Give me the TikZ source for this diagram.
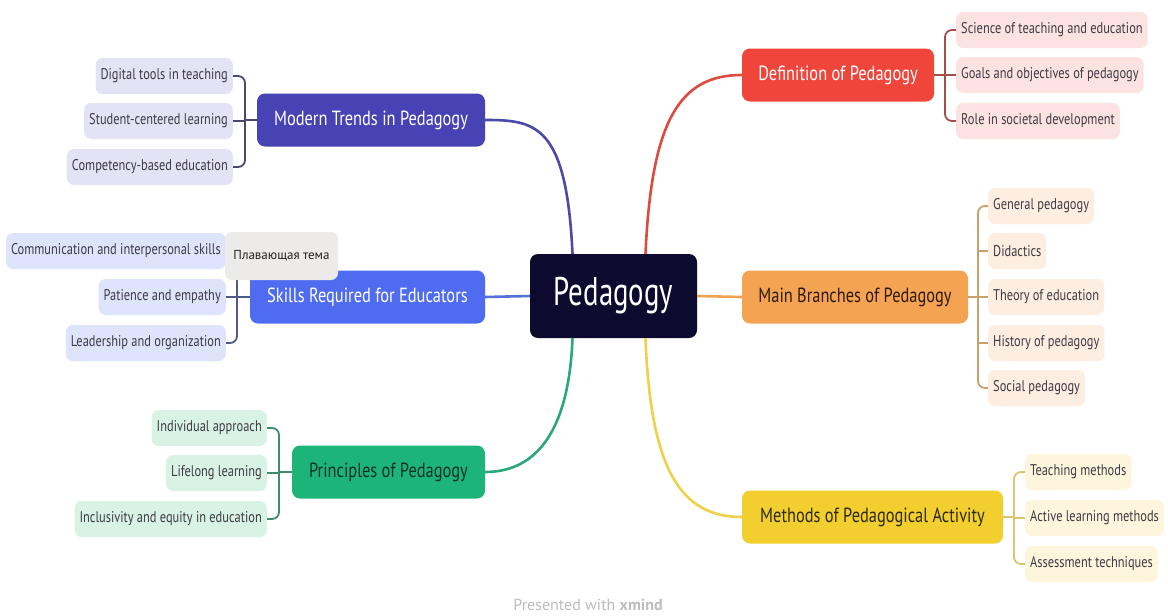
\documentclass[tikz,border=0pt]{standalone}
\usepackage{fontspec}
\setmainfont{PT Sans}[FakeStretch=0.8]
\newfontfamily\centrefont{PT Sans}[FakeStretch=0.72]
\newfontfamily\plainfont{PT Sans}
\usetikzlibrary{calc}
\definecolor{cnavy}{HTML}{0C0A2E}
\definecolor{cred}{HTML}{EF453B}
\definecolor{corange}{HTML}{F4A352}
\definecolor{cyellow}{HTML}{F2CE2E}
\definecolor{cindigo}{HTML}{4843B5}
\definecolor{cblue}{HTML}{4F6CF1}
\definecolor{cgreen}{HTML}{1DB47A}
\definecolor{lred}{HTML}{FCE3E1}
\definecolor{lorange}{HTML}{FDEEE1}
\definecolor{lyellow}{HTML}{FDF6DC}
\definecolor{lindigo}{HTML}{E4E3F5}
\definecolor{lblue}{HTML}{DEE4FB}
\definecolor{lgreen}{HTML}{D8F2E6}
\definecolor{bred}{HTML}{A3504B}
\definecolor{borange}{HTML}{C9A06E}
\definecolor{byellow}{HTML}{D9C570}
\definecolor{bindigo}{HTML}{4A4770}
\definecolor{bblue}{HTML}{505A86}
\definecolor{bgreen}{HTML}{3F8C6B}
\definecolor{subtext}{HTML}{3E3B44}
\definecolor{floatfill}{HTML}{EDEBE9}
\definecolor{floattext}{HTML}{222222}
\definecolor{torange}{HTML}{2E1A0E}
\definecolor{tyellow}{HTML}{2E2A10}
\definecolor{tgreen}{HTML}{0E3326}
\definecolor{kred}{HTML}{DD4A40}
\definecolor{korange}{HTML}{F0A253}
\definecolor{kyellow}{HTML}{EFD04A}
\definecolor{kindigo}{HTML}{4C49A9}
\definecolor{kblue}{HTML}{5570D8}
\definecolor{kgreen}{HTML}{2AA878}
\definecolor{footgray}{HTML}{BDBDBD}
\begin{document}
\begin{tikzpicture}[x=1pt,y=-1pt,
  centre/.style={fill=cnavy,text=white,rounded corners=8pt,minimum width=167pt,minimum height=84pt,font=\centrefont\fontsize{40}{46}\selectfont},
  topic/.style={rounded corners=8pt,minimum height=53pt,inner xsep=13pt,font=\fontsize{20.5}{24}\selectfont},
  subtopic/.style={rounded corners=7pt,minimum height=36pt,inner xsep=5pt,text=subtext,font=\fontsize{15.5}{18}\selectfont},
  trunk/.style={line width=2.6pt},
  bracket/.style={line width=1.8pt,rounded corners=7pt},
  stub/.style={line width=1.8pt}]
\useasboundingbox[fill=white] (0,0) rectangle (1168,616);

% central
\node[centre] (c) at (613.5,296) {Pedagogy};
\coordinate (cTR) at ($(c.north)+(32,0)$);
\coordinate (cTL) at ($(c.north)+(-41,0)$);
\coordinate (cBR) at ($(c.south)+(32,0)$);
\coordinate (cBL) at ($(c.south)+(-41,0)$);

% main topics
\node[topic,fill=cred,text=white,minimum width=192pt] (def) at (838,75) {Definition of Pedagogy};
\node[topic,fill=corange,text=torange,minimum width=226pt] (br) at (855,297) {Main Branches of Pedagogy};
\node[topic,fill=cyellow,text=tyellow,minimum width=261pt] (met) at (872.5,517) {Methods of Pedagogical Activity};
\node[topic,fill=cindigo,text=white,minimum width=228pt] (tr) at (371,120) {Modern Trends in Pedagogy};
\node[topic,fill=cblue,text=white,minimum width=235pt] (sk) at (367.5,297) {Skills Required for Educators};
\node[topic,fill=cgreen,text=tgreen,minimum width=193pt] (pr) at (388.5,472) {Principles of Pedagogy};

% trunk connectors
\draw[trunk,draw=kred] (cTR) .. controls +(6,-134) and +(-62,0) .. (def.west);
\draw[trunk,draw=korange] (c.east) -- (br.west);
\draw[trunk,draw=kyellow] (cBR) .. controls +(5,130) and +(-62,0) .. (met.west);
\draw[trunk,draw=kindigo] (cTL) .. controls +(-6,-130) and +(50,0) .. (tr.east);
\draw[trunk,draw=kblue] (c.west) -- (sk.east);
\draw[trunk,draw=kgreen] (cBL) .. controls +(-4,102) and +(45,0) .. (pr.east);

% bracket x positions
\coordinate (xdef) at (945,0);
\coordinate (xbr) at (978,0);
\coordinate (xmet) at (1014,0);
\coordinate (xtr) at (245,0);
\coordinate (xsk) at (237,0);
\coordinate (xpr) at (279,0);

% Definition children
\node[subtopic,fill=lred,anchor=west] (d1) at (956,30) {Science of teaching and education};
\node[subtopic,fill=lred,anchor=west] (d2) at (956,75) {Goals and objectives of pedagogy};
\node[subtopic,fill=lred,anchor=west] (d3) at (956,121) {Role in societal development};
\draw[bracket,draw=bred] (d1.west) -- (d1.west -| xdef) -- (d3.west -| xdef) -- (d3.west);
\draw[stub,draw=bred] (def.east) -- (def.east -| xdef);
\draw[stub,draw=bred] (d2.west) -- (d2.west -| xdef);

% Branches children
\node[subtopic,fill=lorange,anchor=west] (b1) at (988,206) {General pedagogy};
\node[subtopic,fill=lorange,anchor=west] (b2) at (988,251) {Didactics};
\node[subtopic,fill=lorange,anchor=west] (b3) at (988,297) {Theory of education};
\node[subtopic,fill=lorange,anchor=west] (b4) at (988,343) {History of pedagogy};
\node[subtopic,fill=lorange,anchor=west] (b5) at (988,388) {Social pedagogy};
\draw[bracket,draw=borange] (b1.west) -- (b1.west -| xbr) -- (b5.west -| xbr) -- (b5.west);
\draw[stub,draw=borange] (br.east) -- (br.east -| xbr);
\foreach \k in {b2,b3,b4}
  \draw[stub,draw=borange] (\k.west) -- (\k.west -| xbr);

% Methods children
\node[subtopic,fill=lyellow,anchor=west] (m1) at (1025,472) {Teaching methods};
\node[subtopic,fill=lyellow,anchor=west] (m2) at (1025,518) {Active learning methods};
\node[subtopic,fill=lyellow,anchor=west] (m3) at (1025,564) {Assessment techniques};
\draw[bracket,draw=byellow] (m1.west) -- (m1.west -| xmet) -- (m3.west -| xmet) -- (m3.west);
\draw[stub,draw=byellow] (met.east) -- (met.east -| xmet);
\draw[stub,draw=byellow] (m2.west) -- (m2.west -| xmet);

% Trends children
\node[subtopic,fill=lindigo,anchor=east] (t1) at (233,76) {Digital tools in teaching};
\node[subtopic,fill=lindigo,anchor=east] (t2) at (233,121) {Student-centered learning};
\node[subtopic,fill=lindigo,anchor=east] (t3) at (233,167) {Competency-based education};
\draw[bracket,draw=bindigo] (t1.east) -- (t1.east -| xtr) -- (t3.east -| xtr) -- (t3.east);
\draw[stub,draw=bindigo] (tr.west) -- (tr.west -| xtr);
\draw[stub,draw=bindigo] (t2.east) -- (t2.east -| xtr);

% Skills children
\node[subtopic,fill=lblue,anchor=east] (s1) at (226,251) {Communication and interpersonal skills};
\node[subtopic,fill=lblue,anchor=east] (s2) at (226,297) {Patience and empathy};
\node[subtopic,fill=lblue,anchor=east] (s3) at (226,343) {Leadership and organization};
\draw[bracket,draw=bblue] (s1.east) -- (s1.east -| xsk) -- (s3.east -| xsk) -- (s3.east);
\draw[stub,draw=bblue] (sk.west) -- (sk.west -| xsk);
\draw[stub,draw=bblue] (s2.east) -- (s2.east -| xsk);

% Principles children
\node[subtopic,fill=lgreen,anchor=east] (p1) at (267,428) {Individual approach};
\node[subtopic,fill=lgreen,anchor=east] (p2) at (267,473) {Lifelong learning};
\node[subtopic,fill=lgreen,anchor=east] (p3) at (267,519) {Inclusivity and equity in education};
\draw[bracket,draw=bgreen] (p1.east) -- (p1.east -| xpr) -- (p3.east -| xpr) -- (p3.east);
\draw[stub,draw=bgreen] (pr.west) -- (pr.west -| xpr);
\draw[stub,draw=bgreen] (p2.east) -- (p2.east -| xpr);

% floating topic
\node[subtopic,fill=floatfill,text=floattext,minimum width=113pt,minimum height=48pt,font=\plainfont\fontsize{13}{15}\selectfont] (fl) at (281.5,256) {Плавающая тема};

% footer
\node[text=footgray,font=\plainfont\fontsize{16}{19}\selectfont] (ft) at (588,605) {Presented with \textbf{xmind}};
\end{tikzpicture}
\end{document}
